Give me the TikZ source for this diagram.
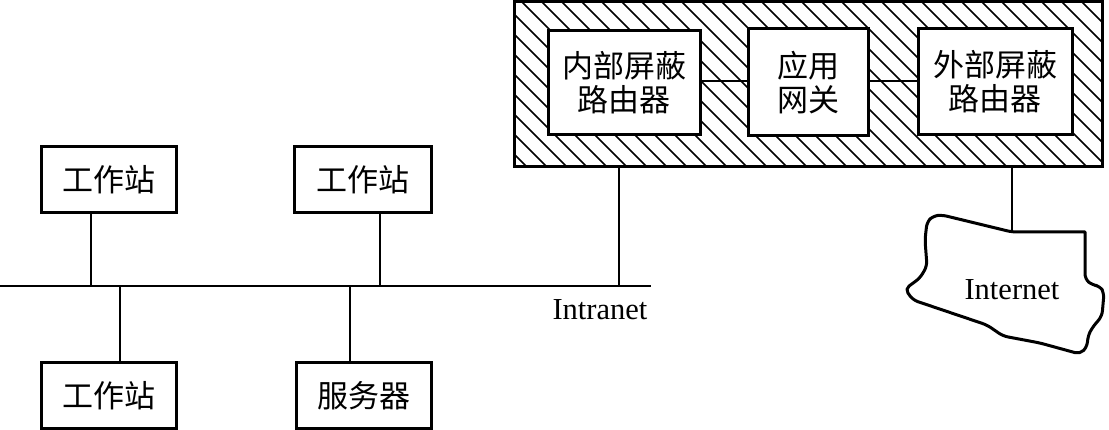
\documentclass[tikz,border=0pt]{standalone}
\usepackage{fontspec}
\setmainfont{Liberation Serif}
\newfontfamily\cjk{Noto Sans CJK SC}
\begin{document}
\begin{tikzpicture}[x=1pt,y=-1pt,
  box/.style={draw,line width=3pt,fill=white,rectangle,inner sep=0pt,
    font=\cjk\fontsize{31}{34}\selectfont,align=center},
  wire/.style={line width=2pt},
  hatch/.style={line width=1.5pt}]
\useasboundingbox (0,0) rectangle (1109,430);
% shield enclosure with hatching
\begin{scope}
  \clip (514,2) rectangle (1102,167);
  \foreach \c in {320,340,...,1120} \draw[hatch] (\c,0) -- ++(175,175);
\end{scope}
\node[draw,line width=3pt,minimum width=588pt,minimum height=165pt,inner sep=0pt] (outer) at (808,84.5) {};
% inner boxes
\node[box,minimum width=152pt,minimum height=104pt] (r1) at (624,83) {内部屏蔽\\路由器};
\node[box,minimum width=120pt,minimum height=107pt] (gw) at (808,82.5) {应用\\网关};
\node[box,minimum width=154pt,minimum height=106pt] (r2) at (995,82) {外部屏蔽\\路由器};
\draw[wire] (r1.east |- 0,81) -- (gw.west |- 0,81);
\draw[wire] (gw.east |- 0,81) -- (r2.west |- 0,81);
% workstations and server
\node[box,minimum width=135pt,minimum height=66pt] (w1) at (108.5,180) {工作站};
\node[box,minimum width=137pt,minimum height=66pt] (w2) at (362.5,180) {工作站};
\node[box,minimum width=135pt,minimum height=65pt] (w3) at (108.5,395.5) {工作站};
\node[box,minimum width=135pt,minimum height=65pt] (srv) at (363.5,395.5) {服务器};
% bus
\coordinate (busL) at (0,286);
\coordinate (busR) at (651,286);
\draw[wire] (busL) -- (busR);
\coordinate (b1) at (91,286);
\coordinate (b2) at (380,286);
\coordinate (b3) at (120,286);
\coordinate (b4) at (350,286);
\coordinate (b5) at (619,286);
\draw[wire] (b1) -- (b1 |- w1.south);
\draw[wire] (b2) -- (b2 |- w2.south);
\draw[wire] (b3) -- (b3 |- w3.north);
\draw[wire] (b4) -- (b4 |- srv.north);
\draw[wire] (b5) -- (b5 |- outer.south);
\node[font=\fontsize{30.5}{34}\selectfont,inner sep=0pt,anchor=base] (intra) at (600,320) {Intranet};
% Internet cloud
\coordinate (ct) at (1012,232);
\draw[line width=3pt,line join=round]
  (ct) -- (1085,232) [rounded corners=5pt] -- (1085,279) -- (1092,285) -- (1100,286) -- (1104,293)
  -- (1102,316) -- (1092,328) -- (1088,336) -- (1087,347) -- (1080,354)
  -- (1040,343) -- (1003,336) -- (987,325) -- (913,300) -- (905,289)
  -- (920,278) -- (927,266) -- (925,240) -- (927,222) -- (933,216)
  -- (942,215) -- cycle;
\node[font=\fontsize{30.5}{34}\selectfont,inner sep=0pt,anchor=base] (inet) at (1012,300) {Internet};
\draw[wire] (ct) -- (ct |- outer.south);
\end{tikzpicture}
\end{document}
